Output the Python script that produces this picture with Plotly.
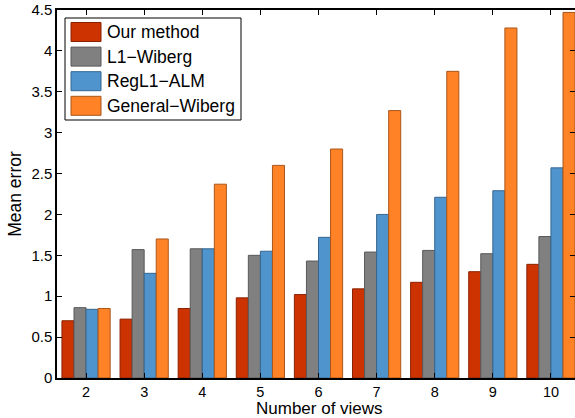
import plotly.graph_objects as go

views = ["2", "3", "4", "5", "6", "7", "8", "9", "10"]
series_names = ["Our method", "L1\u2212Wiberg", "RegL1\u2212ALM", "General\u2212Wiberg"]
our_method = [0.70, 0.72, 0.85, 0.98, 1.02, 1.09, 1.17, 1.30, 1.39]
l1_wiberg = [0.86, 1.57, 1.58, 1.50, 1.43, 1.54, 1.56, 1.52, 1.73]
regl1_alm = [0.84, 1.28, 1.58, 1.55, 1.72, 2.00, 2.21, 2.29, 2.57]
general_wiberg = [0.85, 1.70, 2.37, 2.60, 2.80, 3.27, 3.75, 4.28, 4.47]
y_ticks = [0, 0.5, 1, 1.5, 2, 2.5, 3, 3.5, 4, 4.5]

fills = ["#CC3300", "#808080", "#4F94CD", "#FF8226"]
edges = ["#8A2200", "#595959", "#36668F", "#A9561A"]

W, H = 575, 418
ML, MR, MT, MB = 57, 0, 10, 40
PW, PH = W - ML - MR, H - MT - MB

def px_x(px):
    return (px - ML) / PW

def px_y(py):
    return (H - MB - py) / PH

x_num = [int(v) for v in views]
fig = go.Figure()
for i, (name, vals) in enumerate(zip(series_names, [our_method, l1_wiberg, regl1_alm, general_wiberg])):
    fig.add_trace(go.Bar(
        x=x_num, y=vals, name=name, showlegend=False,
        marker=dict(color=fills[i], line=dict(color=edges[i], width=1)),
    ))

FAM = "Liberation Sans, Arial, sans-serif"
tick_font = dict(family=FAM, size=15, color="black")
title_font = dict(family=FAM, size=17.5, color="black")

# manual legend (large swatches like the reference)
shapes = [dict(type="rect", xref="paper", yref="paper",
               x0=px_x(65), x1=px_x(241), y0=px_y(120), y1=px_y(18),
               line=dict(color="black", width=1), fillcolor="white", layer="above")]
annotations = []
for i, name in enumerate(series_names):
    cy = 32 + 24.6 * i
    shapes.append(dict(type="rect", xref="paper", yref="paper",
                       x0=px_x(71), x1=px_x(101), y0=px_y(cy + 9.5), y1=px_y(cy - 9.5),
                       line=dict(color=edges[i], width=1), fillcolor=fills[i], layer="above"))
    annotations.append(dict(xref="paper", yref="paper", x=px_x(105), y=px_y(cy),
                            xanchor="left", yanchor="middle", showarrow=False,
                            text=name, font=dict(family=FAM, size=17.5, color="black")))

# x-axis title placed explicitly below the tick labels
annotations.append(dict(xref="paper", yref="paper", x=px_x(319), y=px_y(408),
                        xanchor="center", yanchor="middle", showarrow=False,
                        text="Number of views", font=dict(family=FAM, size=17, color="black")))

fig.update_layout(
    width=W, height=H,
    margin=dict(l=ML, r=MR, t=MT, b=MB, autoexpand=False),
    paper_bgcolor="white", plot_bgcolor="white",
    barmode="group", bargap=0.17, bargroupgap=0,
    font=tick_font, showlegend=False,
    shapes=shapes, annotations=annotations,
)
fig.update_xaxes(
    range=[1.5, 10.414], tickvals=x_num, ticktext=views,
    tickfont=dict(family=FAM, size=14.5, color="black"),
    showline=True, linecolor="black", linewidth=1.5, mirror="ticks",
    ticks="inside", ticklen=5, tickcolor="black",
    showgrid=False, zeroline=False, automargin=False,
)
fig.update_yaxes(
    range=[0, 4.5], tickvals=y_ticks, ticktext=[f"{t:g}" for t in y_ticks],
    showline=True, linecolor="black", linewidth=1.5, mirror="ticks",
    ticks="inside", ticklen=5, tickcolor="black",
    showgrid=False, zeroline=False, automargin=False,
    title=dict(text="Mean error", standoff=5, font=title_font),
)
fig.write_html("out.html", config={"displayModeBar": False},
               post_script="document.body.style.margin='0';document.body.style.overflow='hidden';")
